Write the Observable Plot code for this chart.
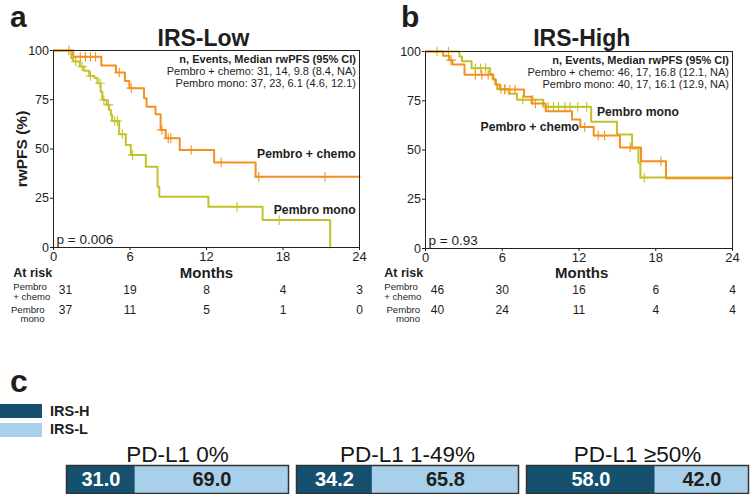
<!DOCTYPE html>
<html><head><meta charset="utf-8">
<script src="https://cdn.jsdelivr.net/npm/d3@7"></script>
<script src="https://cdn.jsdelivr.net/npm/@observablehq/plot@0.6"></script>
<style>
body{margin:0;background:#fff;}
#root{position:relative;width:750px;height:494px;overflow:hidden;font-family:"Liberation Sans",Arial,sans-serif;color:#1e1e1e;background:#fff}
.abs{position:absolute;white-space:pre}
.pl{position:absolute}
.pl svg{display:block;overflow:visible}
g[aria-label="y-axis label"]{font-weight:bold;font-size:15.5px}
</style></head><body><div id="root"></div>
<script>
// ---------- data ----------
const xTicks = [0, 6, 12, 18, 24];
const yTicks = [0, 25, 50, 75, 100];
const COL_CHEMO = "#f39020";
const COL_MONO = "#c4c12a";

// Panel a: IRS-Low (time in months, rwPFS %)
const aChemoT = [0, 1.55, 3.75, 4.9, 5.6, 5.95, 7.1, 7.3, 8.0, 8.4, 8.8, 9.9, 12.6, 15.85, 24];
const aChemoS = [100, 96.8, 92.4, 88.8, 84.5, 80.9, 75.8, 71.5, 67.6, 59.7, 55.4, 49.5, 43.2, 35.9, 35.9];
const aChemoCens = [1.2, 2.1, 2.5, 2.9, 3.3, 5.15, 6.1, 8.5, 9.0, 9.2, 10.8, 13.15, 16.1, 21.3];
const aMonoT = [0, 1.4, 1.55, 2.07, 2.4, 2.8, 3.2, 3.45, 3.7, 3.83, 4.17, 4.36, 4.5, 4.6, 5.15, 5.67, 6.06, 7.24, 8.16, 8.3, 12.15, 16.4, 21.7];
const aMonoS = [100, 96.1, 94.4, 91.9, 89.7, 87.1, 86.0, 83.4, 79.1, 74.9, 72.4, 69.8, 67.3, 64.2, 57.5, 52.0, 46.9, 41.0, 30.8, 25.7, 20.7, 13.9, 0];
const aMonoCens = [1.75, 2.25, 2.9, 3.65, 3.95, 4.3, 4.8, 5.0, 5.4, 6.2, 14.4, 17.7];

// Panel b: IRS-High
const bChemoT = [0, 1.38, 1.85, 2.1, 3.05, 5.3, 5.5, 5.8, 7.7, 8.3, 9.4, 11.45, 12.1, 13.15, 15.2, 16.85, 18.8, 24];
const bChemoS = [100, 97.8, 95.6, 93.4, 88.2, 85.7, 83.2, 80.7, 77.0, 73.6, 69.7, 65.5, 61.7, 57.3, 51.3, 44.3, 35.7, 35.7];
const bChemoCens = [2.0, 3.9, 4.4, 4.9, 6.2, 6.6, 7.0, 8.6, 12.45, 13.5, 14.0, 16.0, 18.4];
const bMonoT = [0, 2.65, 2.85, 3.6, 5.05, 5.25, 5.45, 5.6, 6.5, 7.15, 9.2, 12.95, 14.97, 16.15, 16.65, 16.8, 24];
const bMonoS = [100, 97.5, 95.0, 91.5, 88.6, 86.0, 83.4, 81.0, 78.5, 75.5, 71.9, 64.3, 57.9, 50.8, 43.5, 36.0, 36.0];
const bMonoCens = [0.9, 1.8, 3.9, 4.3, 4.7, 5.9, 6.2, 7.6, 8.4, 9.6, 10.0, 10.4, 10.9, 11.3, 11.9, 12.6, 17.1];

// At-risk tables
const riskTimes = [0, 6, 12, 18, 24];
const aRiskChemo = [31, 19, 8, 4, 3];
const aRiskMono = [37, 11, 5, 1, 0];
const bRiskChemo = [46, 30, 16, 6, 4];
const bRiskMono = [40, 24, 11, 4, 4];

// Panel c
const pdGroups = ["PD-L1 0%", "PD-L1 1-49%", "PD-L1 ≥50%"];
const irsLevels = ["IRS-H", "IRS-L"];
const irsHValues = [31.0, 34.2, 58.0];
const irsLValues = [69.0, 65.8, 42.0];
const COL_H = "#15506f";
const COL_L = "#a8d0ea";

// ---------- helpers ----------
const root = document.getElementById("root");
const FONT = "font-family:'Liberation Sans',Arial,sans-serif;background:transparent;overflow:visible;color:#1e1e1e";
function zip(T, S) { return T.map((t, i) => ({t, s: S[i]})); }
function stepAt(T, S, t) { let v = S[0]; for (let i = 0; i < T.length; i++) if (T[i] <= t) v = S[i]; return v; }
function place(node, left, top) {
  const d = document.createElement("div"); d.className = "pl";
  d.style.left = left + "px"; d.style.top = top + "px"; d.appendChild(node); root.appendChild(d);
}
// text whose first baseline sits at `baseline`; multi-line via "\n" with line height lh
function txt(s, x, baseline, size, weight, anchor, lh) {
  const d = document.createElement("div"); d.className = "abs"; d.textContent = s;
  lh = lh || 1.2 * size;
  const top = baseline - ((lh - 1.117 * size) / 2 + 0.905 * size);
  d.style.fontSize = size + "px"; d.style.lineHeight = lh + "px"; d.style.fontWeight = weight || "normal";
  d.style.left = x + "px"; d.style.top = top + "px";
  if (anchor === "middle") { d.style.transform = "translateX(-50%)"; d.style.textAlign = "center"; }
  if (anchor === "end") { d.style.transform = "translateX(-100%)"; d.style.textAlign = "right"; }
  root.appendChild(d);
}
function box(x, y, w, h, c) {
  const d = document.createElement("div"); d.style.position = "absolute";
  d.style.left = x + "px"; d.style.top = y + "px"; d.style.width = w + "px"; d.style.height = h + "px"; d.style.background = c;
  root.appendChild(d);
}

function km(o) {
  const curves = [
    {T: o.monoT, S: o.monoS, cens: o.monoCens, color: COL_MONO},
    {T: o.chemoT, S: o.chemoS, cens: o.chemoCens, color: COL_CHEMO}
  ];
  const marks = [
    Plot.axisX({ticks: xTicks, tickSize: 3, tickPadding: 1.5, fontSize: 13, label: null}),
    Plot.axisY({ticks: yTicks, tickSize: 3, tickPadding: 1.5, fontSize: 12.5,
      label: o.ylabel, labelAnchor: "center", labelArrow: "none", labelOffset: 38})
  ];
  for (const c of curves) {
    marks.push(Plot.line(zip(c.T, c.S), {x: "t", y: "s", curve: "step-after", stroke: c.color, strokeWidth: 2}));
    marks.push(Plot.dot(c.cens.map(t => ({t, s: stepAt(c.T, c.S, t)})),
      {x: "t", y: "s", symbol: "plus", r: 3.2, stroke: c.color, strokeWidth: 1.1}));
  }
  marks.push(Plot.frame({stroke: "#222", strokeWidth: 1}));
  marks.push(Plot.text([o.header], {frameAnchor: "top-right", dx: -3.5, dy: 4.5, fontSize: 11, fontWeight: "bold", fill: "#1e1e1e"}));
  marks.push(Plot.text([o.line1], {frameAnchor: "top-right", dx: -3.5, dy: 17, fontSize: 11, fill: "#1e1e1e"}));
  marks.push(Plot.text([o.line2], {frameAnchor: "top-right", dx: -3.5, dy: 28.5, fontSize: 11, fill: "#1e1e1e"}));
  marks.push(Plot.text([o.pval], {frameAnchor: "bottom-left", dx: 3, dy: -3.5, fontSize: 13.5, fill: "#1e1e1e"}));
  for (const L of o.labels) {
    marks.push(Plot.text([L.text], {x: L.t, y: L.s, textAnchor: L.anchor, fontSize: 12.2, fontWeight: "bold", fill: "#1e1e1e"}));
  }
  return Plot.plot({
    width: 375, height: 265,
    marginLeft: o.ml, marginRight: o.mr, marginTop: o.mt, marginBottom: 265 - o.mb,
    x: {domain: [0, 24]}, y: {domain: [0, 100]},
    style: FONT, marks
  });
}

function risk(o) {
  const rows = [];
  riskTimes.forEach((t, i) => {
    rows.push({t, row: "chemo", n: o.chemo[i]});
    rows.push({t, row: "mono", n: o.mono[i]});
  });
  return Plot.plot({
    width: 375, height: 40, marginLeft: o.ml, marginRight: o.mr, marginTop: 0, marginBottom: 0,
    x: {domain: [0, 24], axis: null},
    y: {type: "point", domain: ["chemo", "mono"], range: [10, 30], padding: 0, axis: null},
    style: FONT,
    marks: [
      Plot.text(rows, {filter: d => d.t === 0, x: "t", y: "row", text: "n", fontSize: 12, dx: 12, fill: "#1e1e1e"}),
      Plot.text(rows, {filter: d => d.t !== 0, x: "t", y: "row", text: "n", fontSize: 12, fill: "#1e1e1e"})
    ]
  });
}

// ---------- panel a ----------
place(km({
  ml: 53, mr: 16, mt: 50, mb: 247, ylabel: "rwPFS (%)",
  chemoT: aChemoT, chemoS: aChemoS, chemoCens: aChemoCens,
  monoT: aMonoT, monoS: aMonoS, monoCens: aMonoCens,
  header: "n, Events, Median rwPFS (95% CI)",
  line1: "Pembro + chemo: 31, 14, 9.8 (8.4, NA)",
  line2: "Pembro mono: 37, 23, 6.1 (4.6, 12.1)",
  pval: "p = 0.006",
  labels: [
    {text: "Pembro + chemo", t: 23.7, s: 47.5, anchor: "end"},
    {text: "Pembro mono", t: 23.7, s: 19, anchor: "end"}
  ]
}), 0, 0);
place(risk({ml: 53, mr: 16, chemo: aRiskChemo, mono: aRiskMono}), 0, 280);

// ---------- panel b ----------
place(km({
  ml: 50, mr: 18, mt: 51, mb: 248, ylabel: null,
  chemoT: bChemoT, chemoS: bChemoS, chemoCens: bChemoCens,
  monoT: bMonoT, monoS: bMonoS, monoCens: bMonoCens,
  header: "n, Events, Median rwPFS (95% CI)",
  line1: "Pembro + chemo: 46, 17, 16.8 (12.1, NA)",
  line2: "Pembro mono: 40, 17, 16.1 (12.9, NA)",
  pval: "p = 0.93",
  labels: [
    {text: "Pembro mono", t: 13.4, s: 69.3, anchor: "start"},
    {text: "Pembro + chemo", t: 4.3, s: 61.7, anchor: "start"}
  ]
}), 375, 0);
place(risk({ml: 50, mr: 18, chemo: bRiskChemo, mono: bRiskMono}), 375, 280);

// ---------- panel c ----------
const cData = [];
pdGroups.forEach((g, i) => {
  cData.push({group: g, irs: irsLevels[0], value: irsHValues[i]});
  cData.push({group: g, irs: irsLevels[1], value: irsLValues[i]});
});
place(Plot.plot({
  width: 750, height: 54, marginLeft: 65, marginRight: 2, marginTop: 25, marginBottom: 1,
  x: {domain: [0, 100], axis: null},
  fx: {domain: pdGroups, paddingInner: 0.035, paddingOuter: 0},
  color: {domain: irsLevels, range: [COL_H, COL_L]},
  style: FONT,
  marks: [
    Plot.barX(cData, Plot.stackX({x: "value", fx: "group", fill: "irs"})),
    Plot.text(cData, Plot.stackX({x: "value", fx: "group", text: d => d.irs === "IRS-H" ? d.value.toFixed(1) : "", fill: "white", fontSize: 20, fontWeight: "bold"})),
    Plot.text(cData, Plot.stackX({x: "value", fx: "group", text: d => d.irs === "IRS-L" ? d.value.toFixed(1) : "", fill: "#1e1e1e", fontSize: 20, fontWeight: "bold"})),
    Plot.frame({stroke: "#333", strokeWidth: 1.5}),
    Plot.axisFx({anchor: "top", tickSize: 0, tickPadding: 4, fontSize: 22.5, label: null, fill: "#151515"})
  ]
}), 0, 440);

// ---------- HTML labels ----------
txt("a", 10, 27.5, 30, "bold", null, 30);
txt("b", 401, 27.5, 30, "bold", null, 30);
txt("IRS-Low", 203.5, 46.7, 23, "bold", "middle");
txt("IRS-High", 581.7, 46.7, 23, "bold", "middle");
txt("Months", 206.5, 278, 15, "bold", "middle");
txt("Months", 581.7, 278, 15, "bold", "middle");
txt("At risk", 13.3, 278.3, 12.5, "bold");
txt("At risk", 384.3, 278.3, 12.5, "bold");
txt("Pembro\n+ chemo", 13.3, 290.5, 9.6, "normal", null, 9.5);
txt("Pembro\nmono", 44.5, 314, 9.6, "normal", "end", 8.5);
txt("Pembro\n+ chemo", 384.3, 290.5, 9.6, "normal", null, 9.5);
txt("Pembro\nmono", 420, 314, 9.6, "normal", "end", 8.5);
txt("c", 10, 392, 32, "bold");
box(0, 404, 42, 14, COL_H);
box(0, 422.5, 42, 14, COL_L);
txt(irsLevels[0], 50, 416.7, 14.5, "bold");
txt(irsLevels[1], 50, 435, 14.5, "bold");
</script></body></html>
